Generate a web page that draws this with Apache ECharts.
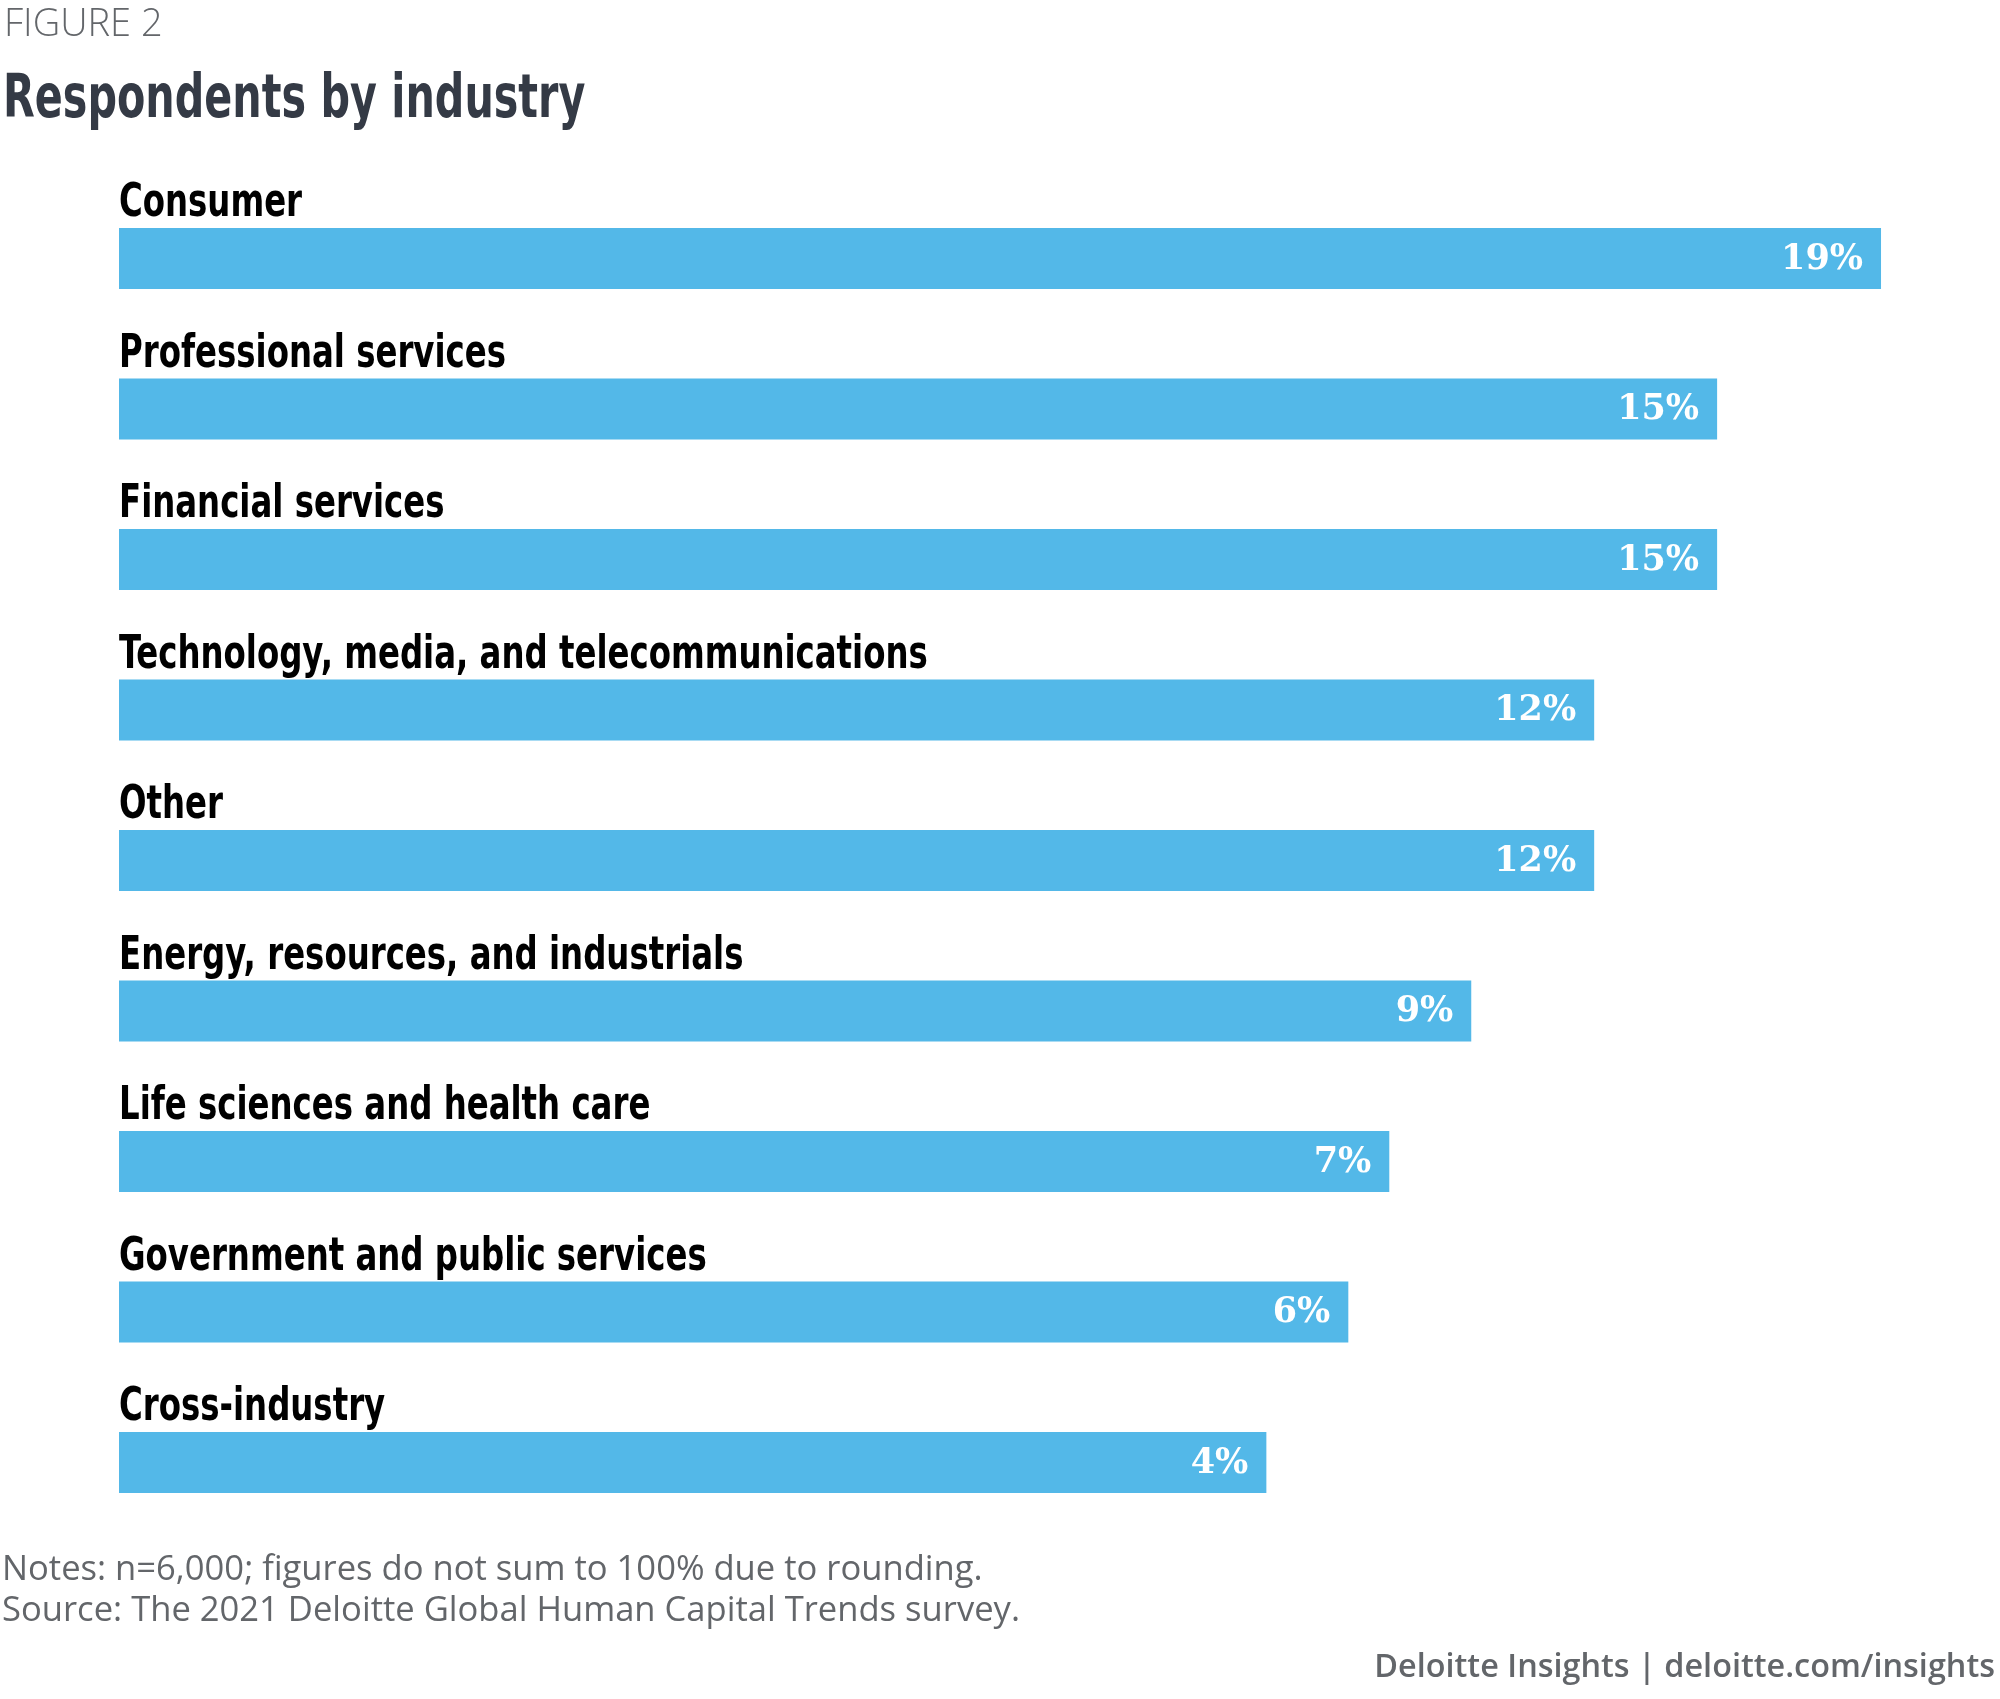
<!DOCTYPE html>
<html>
<head>
<meta charset="utf-8">
<script src="https://cdn.jsdelivr.net/npm/echarts@6/dist/echarts.min.js"></script>
<style>
html,body{margin:0;padding:0;background:#fff;}
#chart{width:2000px;height:1699px;}
</style>
</head>
<body>
<div id="chart"></div>
<script>
const categories = [
  'Consumer',
  'Professional services',
  'Financial services',
  'Technology, media, and telecommunications',
  'Other',
  'Energy, resources, and industrials',
  'Life sciences and health care',
  'Government and public services',
  'Cross-industry'
];
const values = [19, 15, 15, 12, 12, 9, 7, 6, 4];
const figureLabel = 'FIGURE 2';
const titleText = 'Respondents by industry';
const notesText = 'Notes: n=6,000; figures do not sum to 100% due to rounding.';
const sourceText = 'Source: The 2021 Deloitte Global Human Capital Trends survey.';
const footerText = 'Deloitte Insights | deloitte.com/insights';

const AXIS_MIN = -24;
const AXIS_MAX = 20;
const BAR_COLOR = '#53b8e8';
const COND = '"DejaVu Sans Condensed", "DejaVu Sans", sans-serif';
const CAT_FONT = 'bold 46.5px ' + COND;
const VAL_FONT = 'bold 35px "DejaVu Serif", serif';

const chart = echarts.init(document.getElementById('chart'), null, {renderer: 'canvas'});

const option = {
  animation: false,
  backgroundColor: '#ffffff',
  grid: {left: 119, right: 78, top: 183.25, bottom: 161.25, containLabel: false},
  xAxis: {type: 'value', min: AXIS_MIN, max: AXIS_MAX, show: false},
  yAxis: {type: 'category', data: categories, inverse: true, show: false},
  series: [{
    type: 'custom',
    data: values.map((v, i) => [v, i]),
    encode: {x: 0, y: 1},
    renderItem: function (params, api) {
      const v = api.value(0);
      const idx = api.value(1);
      const start = api.coord([AXIS_MIN, idx]);
      const end = api.coord([v, idx]);
      const bandH = api.size([0, 1])[1];
      const h = bandH * 0.405;
      const top = start[1] - h / 2;
      return {
        type: 'group',
        children: [
          {
            type: 'rect',
            shape: {x: start[0], y: top, width: end[0] - start[0], height: h},
            style: {fill: BAR_COLOR}
          },
          {
            type: 'text',
            x: start[0],
            y: top - 0.5,
            scaleX: 0.774,
            style: {
              text: categories[idx],
              x: 0,
              y: 0,
              font: CAT_FONT,
              fill: '#000000',
              align: 'left',
              verticalAlign: 'bottom'
            }
          },
          {
            type: 'text',
            style: {
              text: v + '%',
              x: end[0] - 18,
              y: start[1] + 1,
              font: VAL_FONT,
              fill: '#ffffff',
              align: 'right',
              verticalAlign: 'middle'
            }
          }
        ]
      };
    }
  }],
  graphic: [
    {type: 'text', style: {text: figureLabel, x: 4, y: 25, font: '300 38px "Open Sans", sans-serif', fill: '#63666a', align: 'left', verticalAlign: 'middle'}},
    {type: 'text', x: 3, y: 101, scaleX: 0.765, style: {text: titleText, x: 0, y: 0, font: 'bold 60px ' + COND, fill: '#343a45', align: 'left', verticalAlign: 'middle'}},
    {type: 'text', style: {text: notesText, x: 2, y: 1570, font: '34.6px "Open Sans", sans-serif', fill: '#63666a', align: 'left', verticalAlign: 'middle'}},
    {type: 'text', style: {text: sourceText, x: 2, y: 1611, font: '34.6px "Open Sans", sans-serif', fill: '#63666a', align: 'left', verticalAlign: 'middle'}},
    {type: 'text', style: {text: footerText, x: 1995, y: 1668, font: '600 32.4px "Open Sans", sans-serif', fill: '#63666a', align: 'right', verticalAlign: 'middle'}}
  ]
};
chart.setOption(option);
</script>
</body>
</html>
